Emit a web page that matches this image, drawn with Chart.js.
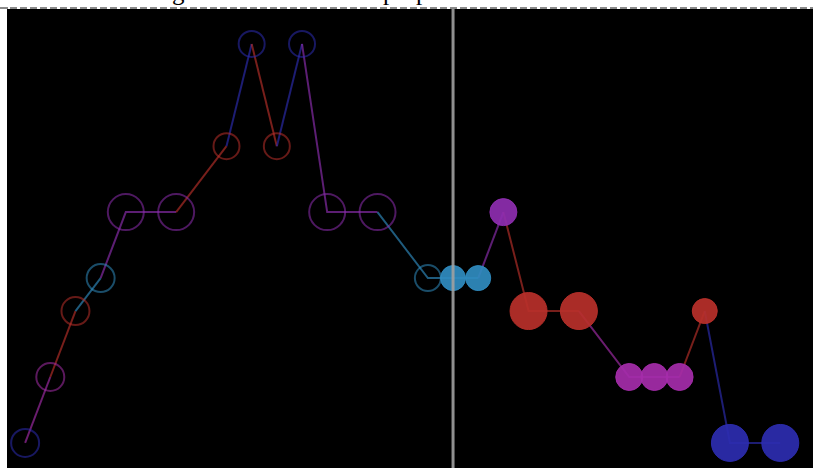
<!DOCTYPE html>
<html>
<head>
<meta charset="utf-8">
<script src="https://cdn.jsdelivr.net/npm/chart.js@4"></script>
<style>
  html, body { margin: 0; padding: 0; background: #fff; overflow: hidden; }
  body { width: 813px; height: 468px; position: relative; }
  .ttl { position: absolute; top: -21px; font-family: "Liberation Serif", serif; font-size: 25px; line-height: 26px; color: #000; white-space: pre; }
  #rule { position: absolute; left: 0; top: 7px; width: 813px; height: 2px;
          background: repeating-linear-gradient(to right, #8a8a8a 0 7px, transparent 7px 10px); }
  #rule0 { position: absolute; left: 0; top: 7px; width: 8px; height: 2px; background: #8a8a8a; }
  #box { position: absolute; left: 7px; top: 9px; width: 806px; height: 459px; background: #000; }
</style>
</head>
<body>
<span class="ttl" style="left:172px">g</span>
<span class="ttl" style="left:383px">p</span>
<span class="ttl" style="left:416px">p</span>
<div id="rule"></div>
<div id="rule0"></div>
<div id="box"><canvas id="c" width="806" height="459"></canvas></div>
<script>
// ---- data ----
const xValues = [0, 1, 2, 3, 4, 6, 8, 9, 10, 11, 12, 14, 16, 17, 18, 19, 20, 22, 24, 25, 26, 27, 28, 30];
const yValues = [0, 1, 2, 2.5, 3.5, 3.5, 4.5, 6.05, 4.5, 6.05, 3.5, 3.5, 2.5, 2.5, 2.5, 3.5, 2, 2, 1, 1, 1, 2, 0, 0];
const categories = ['blue', 'magenta', 'red', 'teal', 'purple', 'purple', 'red', 'blue', 'red', 'blue', 'purple', 'purple', 'teal',
                    'teal', 'teal', 'purple', 'red', 'red', 'magenta', 'magenta', 'magenta', 'red', 'blue', 'blue'];
const markerX = 17;

// ---- styles ----
const palette = {
  blue:    [44, 44, 176],
  magenta: [165, 45, 170],
  red:     [185, 48, 42],
  teal:    [48, 140, 192],
  purple:  [142, 46, 176]
};
const outerRadius = [15, 15, 15, 15, 19, 19, 14, 14, 14, 14, 19, 19, 14, 13, 13, 14, 19, 19, 14, 14, 14, 13, 19, 19];

const rgba = (c, a) => `rgba(${c[0]},${c[1]},${c[2]},${a})`;
const isPast = i => xValues[i] < markerX;

const points = xValues.map((x, i) => ({ x: x, y: yValues[i] }));

const markerPlugin = {
  id: 'marker',
  afterDatasetsDraw(chart) {
    const xs = chart.scales.x, ctx = chart.ctx;
    const px = xs.getPixelForValue(markerX);
    ctx.save();
    ctx.strokeStyle = 'rgba(160,160,160,0.9)';
    ctx.lineWidth = 3;
    ctx.beginPath();
    ctx.moveTo(px, 0);
    ctx.lineTo(px, chart.height);
    ctx.stroke();
    ctx.restore();
  }
};

new Chart(document.getElementById('c'), {
  type: 'scatter',
  data: {
    datasets: [{
      data: points,
      showLine: true,
      borderWidth: 2,
      clip: false,
      segment: {
        borderColor: ctx => rgba(palette[categories[ctx.p1DataIndex]], 0.65)
      },
      pointRadius: points.map((p, i) => isPast(i) ? outerRadius[i] - 1 : outerRadius[i] - 0.5),
      pointBorderWidth: points.map((p, i) => isPast(i) ? 2 : 1),
      pointBackgroundColor: points.map((p, i) => isPast(i) ? 'rgba(0,0,0,0)' : rgba(palette[categories[i]], 0.92)),
      pointBorderColor: points.map((p, i) => isPast(i) ? rgba(palette[categories[i]], 0.55) : rgba(palette[categories[i]], 0.92))
    }]
  },
  options: {
    responsive: false,
    animation: false,
    layout: { padding: 0, autoPadding: false },
    plugins: { legend: { display: false }, tooltip: { enabled: false }, title: { display: false } },
    scales: {
      x: { type: 'linear', display: false, min: -0.72, max: 31.3 },
      y: { type: 'linear', display: false, min: -0.38, max: 6.58 }
    }
  },
  plugins: [markerPlugin]
});
</script>
</body>
</html>
